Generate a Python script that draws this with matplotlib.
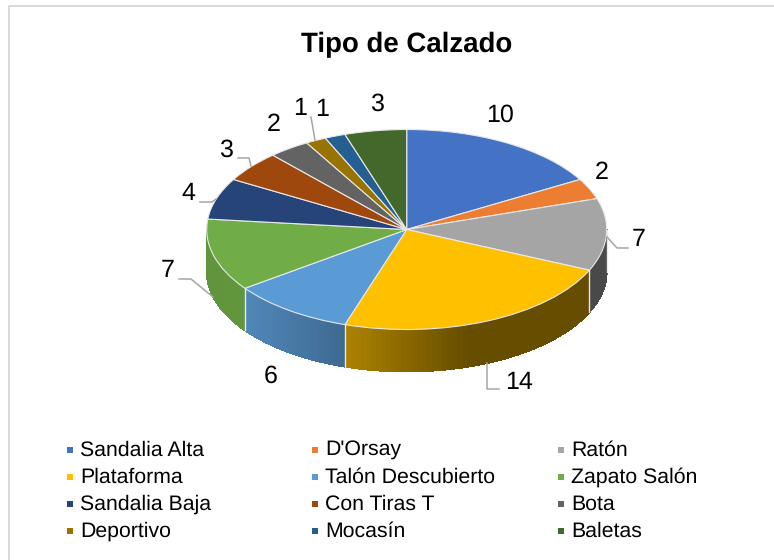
import numpy as np
import matplotlib
matplotlib.use('Agg')
import matplotlib.pyplot as plt
from matplotlib.collections import PolyCollection
from matplotlib.transforms import Affine2D
from matplotlib.colors import to_rgb

categories = ['Sandalia Alta', "D'Orsay", 'Ratón', 'Plataforma', 'Talón Descubierto', 'Zapato Salón',
              'Sandalia Baja', 'Con Tiras T', 'Bota', 'Deportivo', 'Mocasín', 'Baletas']
values = [10, 2, 7, 14, 6, 7, 4, 3, 2, 1, 1, 3]
colors = ['#4472C4', '#ED7D31', '#A5A5A5', '#FFC000', '#5B9BD5', '#70AD47',
          '#264478', '#9E480E', '#636363', '#997300', '#255E91', '#43682B']

# label positions in pixels, same order as values
label_xy = [(500, 115), (602, 173), (639, 240), (519, 383), (271, 376), (168, 271),
            (188, 194), (226, 150), (274, 125), (300, 109), (322, 110), (377, 104)]
leaders = [[(607, 237), (617, 248), (628, 248)],
           [(487, 363), (487, 389), (499, 389)],
           [(213, 297), (191, 279), (179, 279)],
           [(216, 199), (212, 202), (200, 202)],
           [(251, 166), (249, 158), (238, 158)],
           [(315, 140), (311, 117)]]

W, H = 774, 560
cx, cy, rx, ry, depth = 406.7, 229.5, 200, 100, 0.42

plt.rcParams['font.family'] = ['Liberation Sans', 'DejaVu Sans']
plt.rcParams['text.hinting'] = 'no_hinting'

fig = plt.figure(figsize=(W / 100, H / 100), dpi=100)
ax = fig.add_axes([0, 0, 1, 1])

# top face: a normal pie squashed by the axes limits
ax.pie(values, colors=colors, startangle=90, counterclock=False, radius=1,
       wedgeprops=dict(edgecolor='#e8e8e8', linewidth=0.8, zorder=3))
ax.set_aspect('auto')
ax.set_xlim(-cx / rx, (W - cx) / rx)
ax.set_ylim((cy - H) / ry, cy / ry)
ax.axis('off')

# pixel coordinates, y going down
px = Affine2D().scale(1, -1).translate(0, H)

# side wall, lighting changes with x
edges = np.cumsum([0] + values) / sum(values) * 360
polys, cols = [], []
for i in range(len(values)):
    a0, a1 = max(edges[i], 90), min(edges[i + 1], 270)
    if a1 <= a0:
        continue
    ang = np.radians(np.linspace(a0, a1, int((a1 - a0) / 1.5) + 2))
    xs, ys = np.sin(ang), np.cos(ang)
    for j in range(len(ang) - 1):
        polys.append([(xs[j], ys[j]), (xs[j + 1], ys[j + 1]),
                      (xs[j + 1], ys[j + 1] - depth), (xs[j], ys[j] - depth)])
        mid = (xs[j] + xs[j + 1]) / 2
        shade = np.interp(mid, [-1, -0.8, -0.31, 0.3, 1], [0.86, 0.87, 0.68, 0.40, 0.40])
        if i == 2:
            shade = 0.44
        cols.append(tuple(c * shade for c in to_rgb(colors[i])))
    ax.plot([xs[0], xs[0]], [ys[0], ys[0] - depth], color='#e8e8e8', lw=1.0, zorder=2.5)
ax.add_collection(PolyCollection(polys, facecolors=cols, edgecolors='face', linewidths=0.6,
                                 antialiaseds=False, zorder=2))

# leader lines
for pts in leaders:
    xs, ys = zip(*pts)
    ax.plot(xs, ys, color='#a6a6a6', lw=1.1, transform=px, zorder=4, clip_on=False)

# data labels
for v, (x, y) in zip(values, label_xy):
    ax.text(x, y, str(v), transform=px, fontsize=18, ha='center', va='center', color='black', zorder=5)

ax.text(407, 45, 'Tipo de Calzado', transform=px, fontsize=19.9, fontweight='bold',
        ha='center', va='center', color='black')

# legend, filled row by row
col_x = [70, 315, 561]
row_y = [450, 477, 504, 531]
for i, name in enumerate(categories):
    lx, ly = col_x[i % 3], row_y[i // 3]
    ax.plot([lx], [ly], marker='s', ms=3.8, color=colors[i], mew=0, transform=px, linestyle='none')
    ax.text(lx + 10, ly + 6, name, transform=px, fontsize=15.3, ha='left', va='baseline', color='black')

# chart frame, only left and top are inside the crop
ax.plot([9, 9, W], [H, 5.5, 5.5], color='#d9d9d9', lw=1.4, transform=px, clip_on=False)

fig.savefig('out.png', dpi=100, facecolor='white')
